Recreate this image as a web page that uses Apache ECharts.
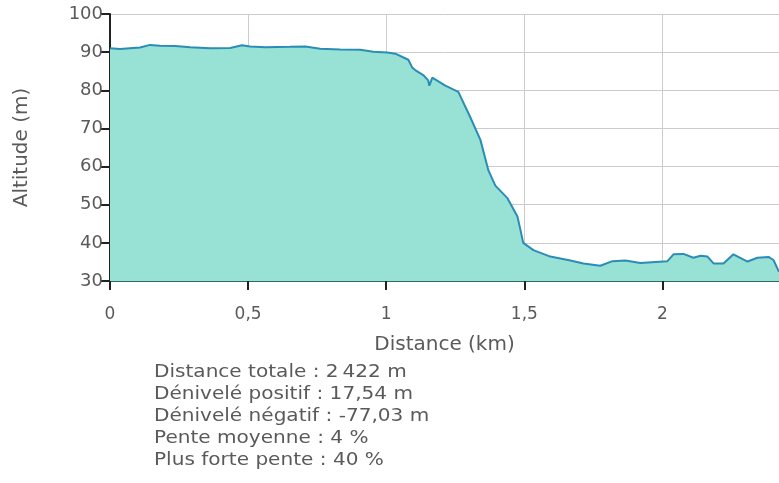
<!DOCTYPE html>
<html>
<head>
<meta charset="utf-8">
<script src="https://cdn.jsdelivr.net/npm/echarts@6/dist/echarts.min.js"></script>
<style>
    html, body { margin: 0; padding: 0; background: #fff; }
    #chart { width: 779px; height: 483px; }
</style>
</head>
<body>
<div id="chart"></div>
<script>
// profil altimétrique : distance (km) / altitude (m)
const distances = [0, 0.036, 0.072, 0.109, 0.145, 0.181, 0.236, 0.290, 0.362, 0.435, 0.478, 0.507, 0.562, 0.652, 0.707, 0.761, 0.833, 0.906, 0.953, 1.004, 1.033, 1.080, 1.094, 1.105, 1.134, 1.152, 1.156, 1.167, 1.214, 1.261, 1.304, 1.341, 1.370, 1.395, 1.438, 1.475, 1.486, 1.496, 1.533, 1.594, 1.667, 1.714, 1.775, 1.819, 1.866, 1.920, 1.975, 2.018, 2.040, 2.076, 2.112, 2.138, 2.163, 2.185, 2.221, 2.257, 2.308, 2.344, 2.384, 2.402, 2.422];
const altitudes = [91.0, 90.8, 91.0, 91.2, 91.9, 91.7, 91.6, 91.3, 91.0, 91.1, 91.8, 91.5, 91.3, 91.4, 91.5, 90.9, 90.7, 90.6, 90.1, 89.9, 89.6, 88.0, 86.0, 85.3, 84.0, 82.6, 81.2, 83.3, 81.2, 79.6, 73.0, 67.0, 59.0, 55.0, 51.8, 46.9, 43.4, 40.0, 38.1, 36.4, 35.4, 34.6, 34.0, 35.2, 35.4, 34.7, 35.0, 35.2, 37.0, 37.1, 36.1, 36.6, 36.4, 34.6, 34.6, 37.0, 35.1, 36.1, 36.3, 35.5, 32.4];
const xTicks = [0, 0.5, 1, 1.5, 2];
const yTicks = [30, 40, 50, 60, 70, 80, 90, 100];
const statLines = [
    'Distance totale : 2\u2009422 m',
    'Dénivelé positif : 17,54 m',
    'Dénivelé négatif : -77,03 m',
    'Pente moyenne : 4 %',
    'Plus forte pente : 40 %'
];

const font = 'DejaVu Sans, Verdana, sans-serif';
const textColor = '#5a5a5a';

let myChart = echarts.init(document.getElementById('chart'));
let option = {
    animation: false,
    grid: {
        left: 110,
        right: 0,
        top: 14,
        bottom: 202
    },
    xAxis: {
        type: 'value',
        min: 0,
        max: 2.422,
        interval: 0.5,
        name: 'Distance (km)',
        nameLocation: 'middle',
        nameGap: 54,
        nameTextStyle: { color: textColor, fontSize: 20, fontFamily: font },
        axisLine: { lineStyle: { color: '#2d6e5e', width: 2 } },
        axisTick: { length: 9, lineStyle: { color: '#222', width: 2 } },
        axisLabel: {
            color: textColor,
            fontSize: 17,
            fontFamily: font,
            margin: 25,
            showMaxLabel: false,
            formatter: (v) => xTicks.includes(v) ? String(v).replace('.', ',') : ''
        },
        splitLine: { show: true, lineStyle: { color: '#ccc', width: 1 } }
    },
    yAxis: {
        type: 'value',
        min: 30,
        max: 100,
        interval: 10,
        name: 'Altitude (m)',
        nameLocation: 'middle',
        nameGap: 78,
        nameTextStyle: { color: textColor, fontSize: 20, fontFamily: font },
        axisLine: { show: true, lineStyle: { color: '#222', width: 2 } },
        axisTick: { show: true, length: 9, lineStyle: { color: '#222', width: 2 } },
        axisLabel: {
            color: textColor,
            fontSize: 18,
            fontFamily: font,
            margin: 7,
            padding: [6, 0, 0, 0],
            formatter: (v) => yTicks.includes(v) ? String(v) : ''
        },
        splitLine: { show: true, lineStyle: { color: '#ccc', width: 1 } }
    },
    graphic: [{
        type: 'text',
        x: 154,
        y: 362,
        scaleX: 1.18,
        style: {
            text: statLines.join('\n'),
            font: '17px ' + font,
            fill: textColor,
            lineHeight: 22
        }
    }],
    series: [{
        type: 'line',
        data: distances.map((d, i) => [d, altitudes[i]]),
        symbol: 'none',
        lineStyle: { color: '#2a8db5', width: 2 },
        areaStyle: { color: '#98e2d5', opacity: 1, origin: 'start' }
    }]
};
myChart.setOption(option);
</script>
</body>
</html>
